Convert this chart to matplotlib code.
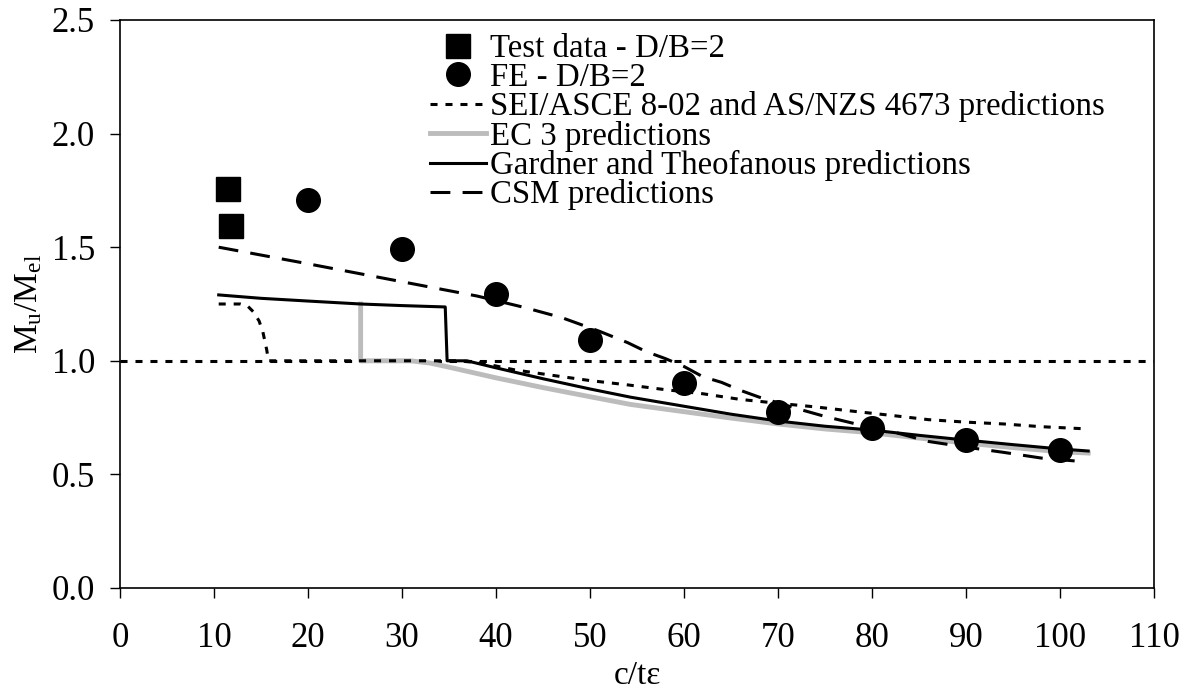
import numpy as np
import matplotlib
matplotlib.use('Agg')
import matplotlib.pyplot as plt

plt.rcParams['font.family'] = ['Liberation Serif', 'DejaVu Serif']
plt.rcParams['mathtext.fontset'] = 'custom'
plt.rcParams['mathtext.rm'] = 'Liberation Serif'
plt.rcParams['mathtext.it'] = 'Liberation Serif'

# Test data - D/B=2
test_x = [11.5, 11.8]
test_y = [1.756, 1.593]

# FE - D/B=2
fe_x = [20, 30, 40, 50, 60, 70, 80, 90, 100]
fe_y = [1.708, 1.49, 1.294, 1.09, 0.902, 0.775, 0.704, 0.651, 0.607]

# SEI/ASCE 8-02 and AS/NZS 4673
sei_x = [10.5, 12.8, 13.6, 14.2, 14.8, 15.2, 15.6, 15.8, 36, 38.5, 42, 46, 50, 54, 58, 62, 66,
         70, 74, 78, 82, 86, 90, 94, 98, 103]
sei_y = [1.25, 1.25, 1.24, 1.215, 1.175, 1.127, 1.05, 1.0, 1.0, 0.99, 0.96, 0.936, 0.913,
         0.894, 0.873, 0.855, 0.83, 0.813, 0.797, 0.778, 0.76, 0.741, 0.73, 0.722, 0.71, 0.70]

# EC 3
ec3_x = [25.6, 25.6, 30.9, 33, 35, 40, 45, 50, 54.3, 60, 65, 70, 75, 80, 85, 90, 95, 100, 103]
ec3_y = [1.25, 1.0, 1.0, 0.99, 0.972, 0.925, 0.882, 0.842, 0.808, 0.776, 0.748, 0.722, 0.700,
         0.683, 0.66, 0.638, 0.618, 0.60, 0.594]

# Gardner and Theofanous
gt_x = [10.5, 15, 20, 25.6, 30, 34.6, 34.8, 36.9, 40, 45, 50, 54.3, 60, 65, 70, 75, 80, 85,
        90, 95, 100, 103]
gt_y = [1.29, 1.275, 1.263, 1.25, 1.243, 1.237, 1.0, 1.0, 0.969, 0.921, 0.876, 0.840, 0.800,
        0.765, 0.735, 0.712, 0.695, 0.672, 0.651, 0.631, 0.612, 0.603]

# CSM
csm_x = [10.5, 20, 30, 38, 43, 47, 51, 54, 56, 58, 60, 62, 64, 66, 68, 70, 72, 75, 78, 82,
         86, 90, 94, 98, 102.5]
csm_y = [1.50, 1.427, 1.348, 1.285, 1.235, 1.19, 1.13, 1.08, 1.04, 1.01, 0.975, 0.93, 0.905,
         0.87, 0.84, 0.815, 0.79, 0.755, 0.725, 0.69, 0.645, 0.62, 0.597, 0.572, 0.556]

fig = plt.figure(figsize=(11.88, 6.98), dpi=100)
ax = fig.add_axes([120 / 1188, 1 - 588 / 698, 1034 / 1188, 568 / 698])

# reference line at 1.0
ax.axhline(1.0, color='black', lw=2.2, dashes=(2.3, 2.6), zorder=1)

ax.plot(test_x, test_y, 's', color='black', ms=17, label='Test data - D/B=2', zorder=5)
ax.plot(fe_x, fe_y, 'o', color='black', ms=17, label='FE - D/B=2', zorder=5)
ax.plot(sei_x, sei_y, color='black', lw=2.2, dashes=(2.3, 2.6),
        label='SEI/ASCE 8-02 and AS/NZS 4673 predictions', zorder=3)
ax.plot(ec3_x, ec3_y, color='#bcbcbc', lw=3.5, label='EC 3 predictions', zorder=2)
ax.plot(gt_x, gt_y, color='black', lw=2.2, label='Gardner and Theofanous predictions', zorder=3)
ax.plot(csm_x, csm_y, color='black', lw=2.2, dashes=(6.5, 4), label='CSM predictions', zorder=3)

ax.set_xlim(0, 110)
ax.set_ylim(0, 2.5)
ax.set_xticks(np.arange(0, 111, 10))
ax.set_yticks(np.arange(0, 2.51, 0.5))
ax.yaxis.set_major_formatter(matplotlib.ticker.FormatStrFormatter('%.1f'))
ax.tick_params(direction='out', length=7, width=1, labelsize=25, top=False, right=False)
ax.tick_params(axis='x', pad=17.5)
ax.tick_params(axis='y', pad=11)
for s in ax.spines.values():
    s.set_linewidth(1.2)

ax.set_xlabel('c/tε', fontsize=24, labelpad=4)
ax.set_ylabel(r'M$_\mathregular{u}$/M$_\mathregular{el}$', fontsize=24, labelpad=5)

ax.legend(loc='upper left', bbox_to_anchor=(0.2998, 0.976), frameon=False, fontsize=23.7,
          labelspacing=-0.05, handlelength=1.7, handletextpad=0.12, borderpad=0,
          borderaxespad=0)

fig.savefig('out.png', dpi=100)
